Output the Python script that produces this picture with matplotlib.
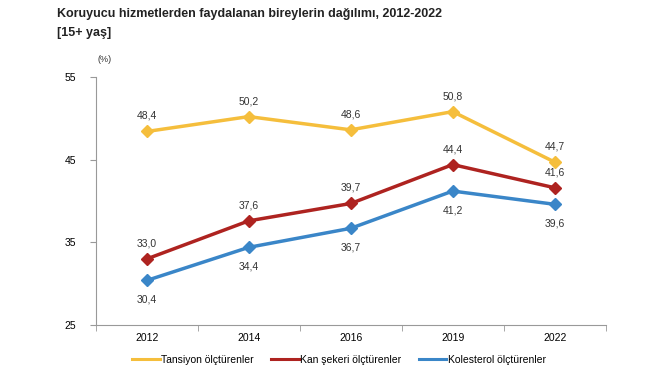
import matplotlib
matplotlib.use("Agg")
import matplotlib.pyplot as plt

plt.rcParams['font.family'] = ['Liberation Sans', 'DejaVu Sans']

# data
years = ["2012", "2014", "2016", "2019", "2022"]
tansiyon = [48.4, 50.2, 48.6, 50.8, 44.7]
kan_sekeri = [33.0, 37.6, 39.7, 44.4, 41.6]
kolesterol = [30.4, 34.4, 36.7, 41.2, 39.6]
y_ticks = [25, 35, 45, 55]

c_yellow = "#F5BE3C"
c_red = "#AE2320"
c_blue = "#3A86C8"

fig = plt.figure(figsize=(6.7, 3.75), dpi=100)
ax = fig.add_axes([0.143, 0.133, 0.761, 0.662])

x = range(len(years))
series = [
    (tansiyon, c_yellow, "Tansiyon ölçtürenler", 9),
    (kan_sekeri, c_red, "Kan şekeri ölçtürenler", 9),
    (kolesterol, c_blue, "Kolesterol ölçtürenler", -16),
]
for vals, col, lab, off in series:
    ax.plot(x, vals, color=col, lw=2.5, marker="D", ms=6.5, label=lab)
    for xi, v in zip(x, vals):
        ax.annotate(f"{v:.1f}".replace(".", ","), (xi, v), xytext=(0, off),
                    textcoords="offset points", ha="center", fontsize=7.5,
                    color="#333333")

ax.set_xlim(-0.5, len(years) - 0.5)
ax.set_ylim(25, 55)
ax.set_yticks(y_ticks)
ax.set_xticks(list(x))
ax.set_xticklabels(years)
ax.set_xticks([i - 0.5 for i in range(len(years) + 1)], minor=True)
ax.tick_params(axis="x", which="major", length=0, pad=6, labelsize=7.5)
ax.tick_params(axis="x", which="minor", length=4, color="#999999", direction="out")
ax.tick_params(axis="y", length=4, color="#999999", labelsize=7.5, pad=10)
for s in ["top", "right"]:
    ax.spines[s].set_visible(False)
for s in ["left", "bottom"]:
    ax.spines[s].set_color("#999999")

fig.text(0.085, 0.955, "Koruyucu hizmetlerden faydalanan bireylerin dağılımı, 2012-2022",
         fontsize=9, fontweight="bold", color="#222222")
fig.text(0.085, 0.905, "[15+ yaş]", fontsize=9, fontweight="bold", color="#222222")
fig.text(0.145, 0.835, "(%)", fontsize=6.5, color="#333333")

leg_handles = [plt.Line2D([0], [0], color=c, lw=2.2) for _, c, _, _ in series]
fig.legend(leg_handles, [s[2] for s in series], loc="center", ncol=3,
           bbox_to_anchor=(0.506, 0.04), frameon=False, fontsize=7.5,
           handlelength=2.6, handletextpad=0.15, columnspacing=1.7)

fig.savefig("out.png", dpi=100, facecolor="white")
